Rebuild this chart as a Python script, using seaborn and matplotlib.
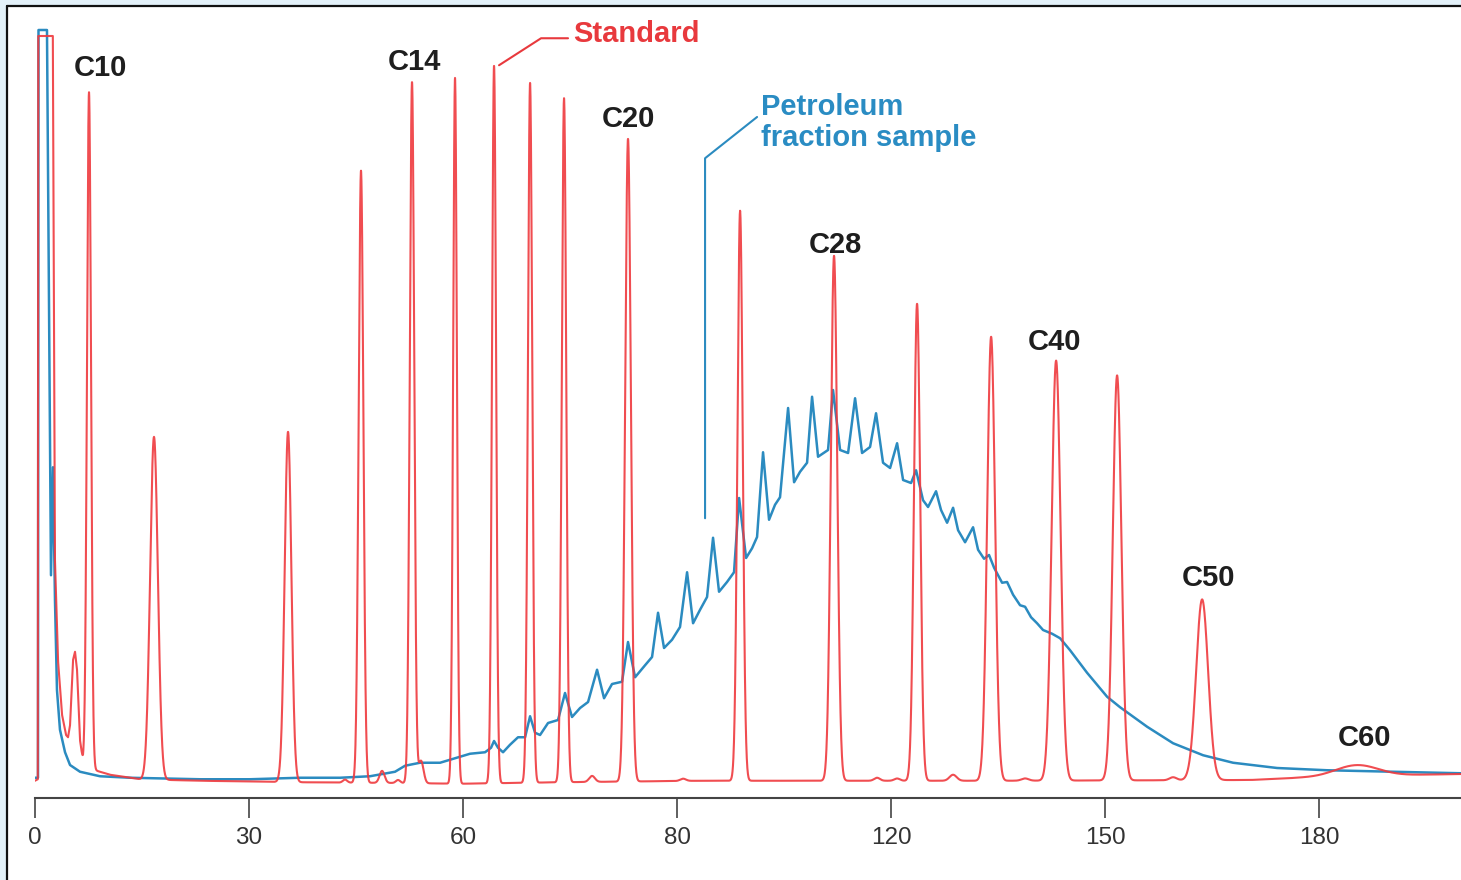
import numpy as np
import pandas as pd
import matplotlib
matplotlib.use("Agg")
import matplotlib.pyplot as plt
from matplotlib.patches import Rectangle
from matplotlib.lines import Line2D
import seaborn as sns

# ---------------------------------------------------------------------------
# Standard mixture (n-alkanes): peak table
# retention time (min), height above baseline, peak sigma (min)
std_rt = [7.57, 16.68, 35.47, 45.70, 52.85, 58.88, 64.35, 69.40, 74.16,
          83.13, 98.84, 112.01, 123.65, 134.03, 143.14, 151.69, 163.61, 185.3]
std_height = [90.0, 45.7, 46.7, 81.6, 93.5, 94.1, 95.7, 93.3, 91.2,
              85.7, 76.0, 70.0, 63.6, 59.2, 56.0, 54.0, 24.1, 1.5]
std_sigma = [0.28, 0.54, 0.47, 0.33, 0.31, 0.26, 0.28, 0.30, 0.31,
             0.40, 0.37, 0.45, 0.43, 0.55, 0.62, 0.60, 0.84, 3.0]

# minor impurity peaks in the standard
minor_rt = [43.46, 48.65, 50.89, 54.11, 78.09, 90.85, 118.04, 120.85,
            128.70, 138.79, 159.54]
minor_height = [0.4, 1.6, 0.4, 3.0, 0.8, 0.3, 0.4, 0.3, 0.8, 0.3, 0.4]
minor_sigma = [0.30, 0.35, 0.30, 0.35, 0.40, 0.40, 0.40, 0.40, 0.50, 0.50, 0.50]

# standard baseline including the (off-scale) solvent front
std_base_rt = [0.0, 0.39, 0.46, 2.50, 2.80, 3.22, 3.79, 4.35, 4.63, 4.91,
               5.33, 5.61, 5.89, 6.31, 6.73, 7.57, 8.41, 9.11, 10.51, 12.62,
               14.72, 23.13, 37.15, 51.17, 59.58, 73.60, 93.23, 135.29,
               170.34, 177.35, 194.17, 199.92]
std_base_signal = [-0.1, 0.1, 99.2, 99.2, 29.3, 16.0, 8.7, 6.0, 5.7, 7.3,
                   16.0, 17.1, 14.7, 5.3, 2.4, 1.7, 1.3, 1.1, 0.7, 0.4,
                   0.1, -0.1, -0.3, -0.4, -0.5, -0.3, -0.1, -0.1,
                   0.0, 0.3, 0.7, 0.8]

# Petroleum fraction sample trace
sample_rt = [0.0, 0.42, 0.49, 1.68, 1.96, 2.24, 2.52, 2.80, 3.08, 3.50, 4.21,
             4.91, 6.31, 9.11, 13.32, 23.13, 30.14, 37.15, 42.76, 46.96,
             50.47, 51.87, 53.97, 56.78, 58.88, 60.98, 63.09, 63.93, 64.35,
             64.91, 65.61, 66.59, 67.71, 68.70, 69.40, 70.10, 70.80, 71.92,
             73.32, 74.30, 75.28, 76.41, 77.53, 78.79, 79.77, 80.89, 82.29,
             83.13, 84.12, 85.52, 86.50, 87.34, 88.18, 89.30, 90.42, 91.41,
             92.25, 93.23, 94.21, 95.05, 95.89, 97.01, 97.99, 98.70, 99.68,
             100.52, 101.22, 102.06, 102.90, 103.74, 104.44, 105.57, 106.41,
             107.25, 108.23, 108.93, 109.77, 111.17, 111.87, 112.86, 113.98,
             114.96, 115.94, 117.06, 117.90, 118.88, 119.87, 120.85, 121.69,
             122.81, 123.51, 124.49, 125.19, 126.31, 127.01, 127.86, 128.70,
             129.40, 130.38, 131.50, 132.20, 133.04, 133.74, 134.45, 135.57,
             136.27, 137.11, 138.09, 138.79, 139.63, 140.47, 141.31, 142.58,
             143.70, 145.10, 147.48, 150.29, 152.11, 155.90, 159.54, 163.75,
             167.95, 174.12, 181.13, 190.38, 199.92]
sample_signal = [0.3, 0.3, 100.0, 100.0, 64.0, 27.3, 41.7, 24.0, 12.0, 6.7,
                 3.7, 2.0, 1.1, 0.5, 0.3, 0.1, 0.1, 0.3, 0.3, 0.5,
                 1.1, 1.9, 2.3, 2.3, 2.9, 3.5, 3.7, 4.3, 5.2,
                 4.3, 3.7, 4.7, 5.7, 5.7, 8.5, 6.3, 6.0, 7.6,
                 8.0, 11.6, 8.4, 9.6, 10.4, 14.7, 10.9, 12.8, 13.1,
                 18.4, 13.7, 15.3, 16.4, 22.3, 17.6, 18.7, 20.4, 27.7,
                 20.9, 22.7, 24.4, 32.3, 25.1, 26.4, 27.7, 37.6, 29.6,
                 30.9, 32.4, 43.7, 34.7, 36.7, 37.7, 49.6, 39.7,
                 41.1, 42.3, 51.1, 43.1, 44.0, 52.0, 44.0, 43.6,
                 50.9, 43.6, 44.4, 48.9, 42.3, 41.6, 44.9, 40.0,
                 39.6, 41.3, 37.3, 36.4, 38.5, 36.0, 34.3, 36.3,
                 33.3, 31.7, 33.7, 30.7, 29.5, 30.0, 28.3, 26.3,
                 26.4, 24.7, 23.3, 23.1, 21.7, 20.9, 20.0, 19.5,
                 18.9, 17.3, 14.3, 11.1, 9.7, 7.1, 4.9, 3.3,
                 2.3, 1.6, 1.3, 1.1, 0.9]

tick_pos = [0, 30, 60, 90, 120, 150, 180]
tick_labels = ["0", "30", "60", "80", "120", "150", "180"]

carbon_labels = ["C10", "C14", "C20", "C28", "C40", "C50", "C60"]
carbon_label_xy = [(9.11, 94.9), (53.13, 95.7), (83.13, 88.1), (112.15, 71.3),
                   (142.86, 58.4), (164.45, 26.9), (186.32, 5.6)]

# ---------------------------------------------------------------------------
RED = "#ef3a3e"
BLUE = "#2b8bc0"
RED_TXT = "#e8393d"
BLUE_TXT = "#2a8cc3"

sns.set_style("white")
plt.rcParams["font.family"] = ["Liberation Sans", "DejaVu Sans"]

W, H = 1461, 880
fig = plt.figure(figsize=(W / 100, H / 100), dpi=100)
fig.patch.set_facecolor("#e3f1f9")

# white panel with a dark frame on the top and left
fig.add_artist(Rectangle((8 / W, 0), 1, 1 - 7 / H, transform=fig.transFigure,
                         facecolor="white", edgecolor="none", zorder=0))
fig.add_artist(Line2D([7 / W, 1], [1 - 6 / H, 1 - 6 / H], transform=fig.transFigure,
                      color="#111111", lw=1.6, zorder=5))
fig.add_artist(Line2D([7 / W, 7 / W], [0, 1 - 6 / H], transform=fig.transFigure,
                      color="#111111", lw=1.6, zorder=5))

ax = fig.add_axes([35 / W, 82 / H, 1 - 35 / W, 798 / H])
ax.patch.set_alpha(0)

# standard chromatogram: baseline + Gaussian peaks
t = np.union1d(np.arange(0, 200.0001, 0.02), std_base_rt)
std_signal = np.interp(t, std_base_rt, std_base_signal)
for rt, h, s in zip(std_rt + minor_rt, std_height + minor_height, std_sigma + minor_sigma):
    std_signal += h * np.exp(-0.5 * ((t - rt) / s) ** 2)

df_sample = pd.DataFrame({"rt": sample_rt, "signal": sample_signal})
df_std = pd.DataFrame({"rt": t, "signal": std_signal})

sns.lineplot(data=df_sample, x="rt", y="signal", ax=ax, color=BLUE, lw=1.8,
             estimator=None, sort=False, zorder=2,
             solid_joinstyle="round", solid_capstyle="round")
sns.lineplot(data=df_std, x="rt", y="signal", ax=ax, color=RED, lw=1.5,
             alpha=0.9, estimator=None, sort=False, zorder=3)

ax.set_xlim(0, 199.9)
ax.set_ylim(-2.4, 104.0)

# carbon number labels
for lab, (x, y) in zip(carbon_labels, carbon_label_xy):
    ax.text(x, y, lab, ha="center", va="center", fontsize=21, fontweight="bold",
            color="#1e1e1e", zorder=4)

# series call-outs
ax.plot([65.05, 70.94, 74.72], [95.3, 98.9, 98.9], color=RED_TXT, lw=1.5, zorder=4)
ax.text(75.4, 99.4, "Standard", ha="left", va="center", fontsize=21,
        fontweight="bold", color=RED_TXT, zorder=4)

ax.plot([101.22, 93.93, 93.93], [88.4, 82.9, 34.9], color=BLUE, lw=1.5, zorder=4)
ax.text(101.78, 87.7, "Petroleum\nfraction sample", ha="left", va="center",
        fontsize=21, fontweight="bold", color=BLUE_TXT, linespacing=1.12, zorder=4)

# axes styling
ax.set_xticks(tick_pos)
ax.set_xticklabels(tick_labels)
ax.set_yticks([])
ax.set_xlabel("")
ax.set_ylabel("")
for side in ("left", "right", "top"):
    ax.spines[side].set_visible(False)
ax.spines["bottom"].set_color("#444444")
ax.spines["bottom"].set_linewidth(1.5)
ax.tick_params(axis="x", direction="out", length=14.5, width=1.2, color="#444444",
               labelsize=17.5, labelcolor="#333333", pad=6.5, bottom=True)

fig.savefig("out.png", dpi=100, facecolor=fig.get_facecolor())
